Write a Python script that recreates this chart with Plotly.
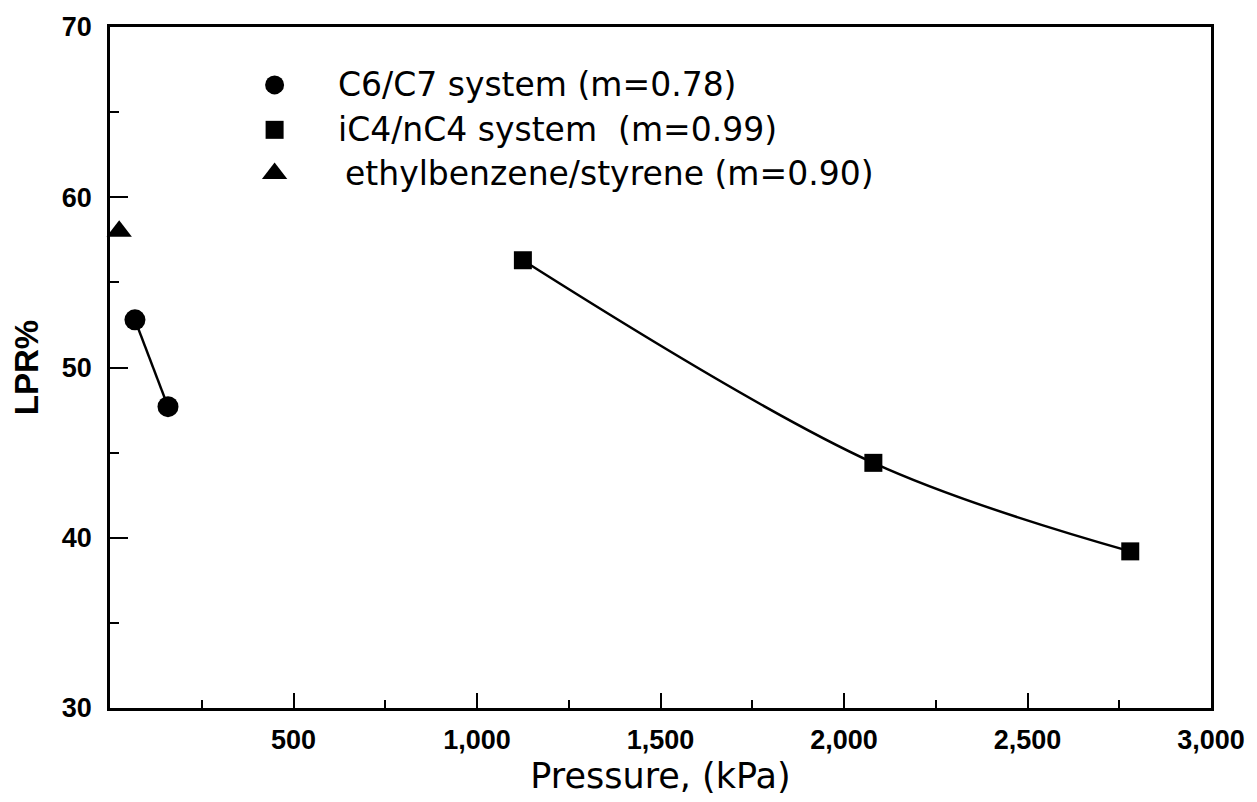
import plotly.graph_objects as go

# ---- data ----
c6_x = [68, 158]
c6_y = [52.8, 47.7]
ic4_x = [1125, 2080, 2780]
ic4_y = [56.3, 44.4, 39.2]
eb_x = [25]
eb_y = [58.0]

x_tickvals = [500, 1000, 1500, 2000, 2500, 3000]
x_ticktext = ["500", "1,000", "1,500", "2,000", "2,500", "3,000"]
y_tickvals = [30, 40, 50, 60, 70]

legend_labels = ["C6/C7 system (m=0.78)", "iC4/nC4 system  (m=0.99)", "ethylbenzene/styrene (m=0.90)"]
legend_symbols = ["circle", "square", "triangle-up"]
legend_sizes = [19, 18, 22]
legend_y = [0.915, 0.849, 0.785]
legend_marker_x = 0.1495
legend_text_x = [0.2055, 0.2055, 0.212]

FONT = "DejaVu Sans"
TICKFONT = "Liberation Sans"
BLACK = "#000000"

fig = go.Figure()

fig.add_trace(go.Scatter(x=c6_x, y=c6_y, mode="lines+markers",
                         line=dict(color=BLACK, width=2.5),
                         marker=dict(symbol="circle", size=21, color=BLACK),
                         showlegend=False, cliponaxis=False))
fig.add_trace(go.Scatter(x=ic4_x, y=ic4_y, mode="lines+markers",
                         line=dict(color=BLACK, width=2.5, shape="spline", smoothing=1.0),
                         marker=dict(symbol="square", size=18, color=BLACK),
                         showlegend=False, cliponaxis=False))
fig.add_trace(go.Scatter(x=eb_x, y=eb_y, mode="markers",
                         marker=dict(symbol="triangle-up", size=22, color=BLACK),
                         showlegend=False, cliponaxis=False))

# custom legend: markers on an overlay axis spanning [0,1]
for sym, sz, ly in zip(legend_symbols, legend_sizes, legend_y):
    fig.add_trace(go.Scatter(x=[legend_marker_x], y=[ly], mode="markers",
                             marker=dict(symbol=sym, size=sz, color=BLACK, opacity=1,
                                         line=dict(color=BLACK, width=0)),
                             xaxis="x2", yaxis="y2", showlegend=False,
                             hoverinfo="skip", cliponaxis=False))

for lab, ly, lx in zip(legend_labels, legend_y, legend_text_x):
    fig.add_annotation(text=lab, x=lx, y=ly, xref="paper", yref="paper",
                       xanchor="left", yanchor="middle", showarrow=False,
                       font=dict(family=FONT, size=33, color=BLACK))

fig.update_layout(
    width=1257, height=802,
    margin=dict(l=110, r=43, t=25, b=89),
    paper_bgcolor="white", plot_bgcolor="white",
    font=dict(family=FONT, color=BLACK),
    showlegend=False,
    xaxis=dict(range=[0, 3000], tickmode="array", tickvals=x_tickvals, ticktext=x_ticktext,
               ticks="inside", ticklen=15, tickwidth=2, tickcolor=BLACK,
               minor=dict(ticks="inside", ticklen=8, tickwidth=2, tickcolor=BLACK,
                          tickmode="linear", tick0=0, dtick=250),
               showline=True, linewidth=2.5, linecolor=BLACK, mirror=True,
               showgrid=False, zeroline=False,
               tickfont=dict(family=TICKFONT, size=27, weight="bold", color=BLACK),
               ticklabelstandoff=6,
               title=dict(text="Pressure, (kPa)", standoff=10,
                          font=dict(family=FONT, size=35, color=BLACK))),
    yaxis=dict(range=[30, 70], tickmode="array", tickvals=y_tickvals,
               ticks="inside", ticklen=18, tickwidth=2, tickcolor=BLACK,
               minor=dict(ticks="inside", ticklen=9, tickwidth=2, tickcolor=BLACK,
                          tickmode="linear", tick0=30, dtick=5),
               showline=True, linewidth=2.5, linecolor=BLACK, mirror=True,
               showgrid=False, zeroline=False,
               tickfont=dict(family=TICKFONT, size=27, weight="bold", color=BLACK),
               ticklabelstandoff=10,
               title=dict(text="LPR%", standoff=14,
                          font=dict(family=TICKFONT, size=33, weight="bold", color=BLACK))),
    xaxis2=dict(range=[0, 1], overlaying="x", visible=False, fixedrange=True),
    yaxis2=dict(range=[0, 1], overlaying="y", visible=False, fixedrange=True),
)

fig.write_html("out.html")
